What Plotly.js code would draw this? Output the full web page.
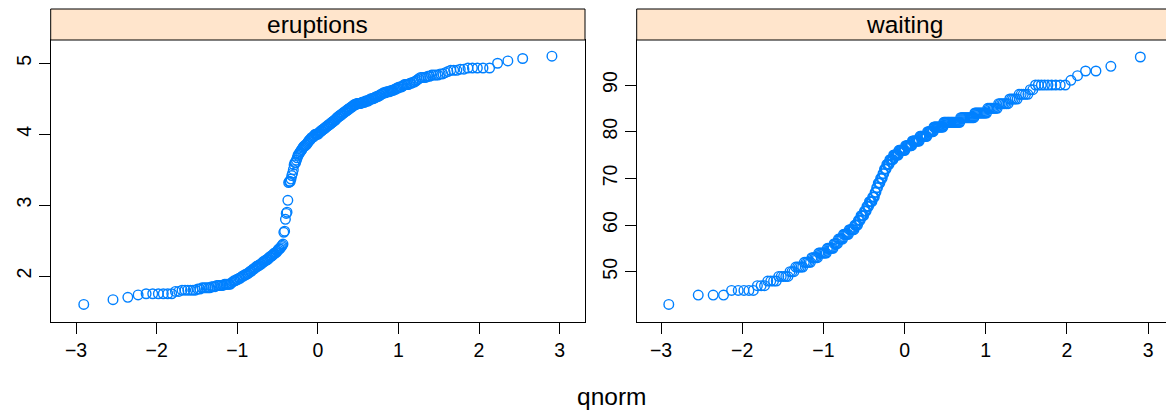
<!DOCTYPE html>
<html>
<head>
<meta charset="utf-8">
<script src="https://cdn.plot.ly/plotly-3.0.1.min.js"></script>
<style>
html, body { margin:0; padding:0; overflow:hidden; background:#fff; }
#chart { width:1175px; height:411px; }
</style>
</head>
<body>
<div id="chart"></div>
<script>
// Sorted sample values (Old Faithful eruptions, minutes)
const eruptions = [
1.600,1.667,1.700,1.733,1.750,1.750,1.750,1.750,1.750,1.750,
1.783,1.783,1.800,1.800,1.800,1.800,1.800,1.800,1.817,1.817,
1.833,1.833,1.833,1.833,1.833,1.850,1.850,1.850,1.867,1.867,
1.867,1.867,1.867,1.883,1.883,1.883,1.883,1.883,1.900,1.917,
1.933,1.933,1.950,1.950,1.967,1.967,1.983,2.000,2.000,2.017,
2.017,2.033,2.033,2.050,2.067,2.067,2.083,2.100,2.100,2.117,
2.133,2.133,2.150,2.150,2.167,2.167,2.183,2.200,2.200,2.217,
2.217,2.233,2.233,2.250,2.267,2.267,2.283,2.283,2.300,2.317,
2.317,2.333,2.333,2.350,2.367,2.383,2.383,2.400,2.417,2.433,
2.450,2.617,2.633,2.800,2.883,2.900,3.067,3.317,3.333,3.333,
3.367,3.417,3.450,3.500,3.567,3.600,3.600,3.633,3.667,3.700,
3.717,3.733,3.750,3.767,3.783,3.800,3.817,3.833,3.833,3.850,
3.850,3.867,3.883,3.900,3.917,3.917,3.933,3.950,3.950,3.967,
3.967,3.983,4.000,4.000,4.000,4.000,4.000,4.017,4.033,4.033,
4.050,4.050,4.067,4.067,4.083,4.083,4.100,4.100,4.117,4.117,
4.133,4.133,4.150,4.150,4.167,4.167,4.183,4.183,4.200,4.200,
4.217,4.233,4.233,4.250,4.250,4.267,4.267,4.283,4.283,4.300,
4.300,4.317,4.317,4.333,4.333,4.350,4.350,4.367,4.367,4.383,
4.383,4.400,4.400,4.417,4.417,4.417,4.433,4.433,4.433,4.433,
4.433,4.433,4.450,4.450,4.450,4.450,4.467,4.467,4.467,4.467,
4.483,4.483,4.500,4.500,4.500,4.500,4.517,4.517,4.533,4.533,
4.533,4.550,4.550,4.567,4.567,4.583,4.583,4.583,4.600,4.600,
4.600,4.600,4.617,4.617,4.617,4.633,4.633,4.650,4.650,4.667,
4.667,4.667,4.683,4.700,4.700,4.700,4.700,4.717,4.717,4.733,
4.733,4.750,4.767,4.783,4.800,4.800,4.800,4.800,4.817,4.817,
4.833,4.833,4.833,4.833,4.850,4.850,4.867,4.883,4.900,4.900,
4.900,4.917,4.917,4.933,4.933,4.933,4.933,4.933,5.000,5.033,5.067,5.100
];
// Sorted waiting times (minutes)
const waiting = [
43,45,45,45,46,46,46,46,46,47,47,47,
48,48,48,48,49,49,49,49,
49,50,50,50,51,51,51,51,51,52,
52,52,52,52,53,53,53,53,53,54,
54,54,54,54,54,54,55,55,55,55,
55,55,56,56,56,56,57,57,57,57,
57,58,58,58,58,58,58,59,59,59,
59,59,59,60,60,60,60,61,61,61,
62,62,62,62,63,63,63,64,64,64,
65,65,65,65,66,66,66,67,67,68,
68,69,69,69,70,70,70,71,71,72,
72,72,73,73,73,73,74,74,74,74,
74,75,75,75,75,75,75,75,76,76,
76,76,76,76,76,76,76,77,77,77,
77,77,77,77,77,77,78,78,78,78,
78,78,78,78,78,78,79,79,79,79,
79,79,79,79,79,79,80,80,80,80,
80,80,80,80,81,81,81,81,81,81,
81,81,81,81,81,81,82,82,82,82,
82,82,82,82,82,82,82,82,82,82,
82,82,82,82,82,83,83,83,83,83,
83,83,83,83,83,83,83,83,83,84,
84,84,84,84,84,84,84,84,84,84,
85,85,85,85,85,85,85,85,86,86,
86,86,86,86,86,87,87,87,87,87,
88,88,88,88,88,89,89,90,90,90,
90,90,90,90,90,90,91,92,93,93,94,96
];
const panelTitles = ["eruptions", "waiting"];
const xTicks = [-3,-2,-1,0,1,2,3];
const yTicksLeft = [2,3,4,5];
const yTicksRight = [50,60,70,80,90];

// Theoretical normal quantiles (qqmath: qnorm(ppoints(n)))
function qnorm(p){
  const a=[-3.969683028665376e+01,2.209460984245205e+02,-2.759285104469687e+02,1.383577518672690e+02,-3.066479806614716e+01,2.506628277459239e+00];
  const b=[-5.447609879822406e+01,1.615858368580409e+02,-1.556989798598866e+02,6.680131188771972e+01,-1.328068155288572e+01];
  const c=[-7.784894002430293e-03,-3.223964580411365e-01,-2.400758277161838e+00,-2.549732539343734e+00,4.374664141464968e+00,2.938163982698783e+00];
  const d=[7.784695709041462e-03,3.224671290700398e-01,2.445134137142996e+00,3.754408661907416e+00];
  const pl=0.02425, ph=1-pl; let q,r;
  if(p<pl){q=Math.sqrt(-2*Math.log(p));return (((((c[0]*q+c[1])*q+c[2])*q+c[3])*q+c[4])*q+c[5])/((((d[0]*q+d[1])*q+d[2])*q+d[3])*q+1);}
  if(p<=ph){q=p-0.5;r=q*q;return (((((a[0]*r+a[1])*r+a[2])*r+a[3])*r+a[4])*r+a[5])*q/(((((b[0]*r+b[1])*r+b[2])*r+b[3])*r+b[4])*r+1);}
  q=Math.sqrt(-2*Math.log(1-p));return -(((((c[0]*q+c[1])*q+c[2])*q+c[3])*q+c[4])*q+c[5])/((((d[0]*q+d[1])*q+d[2])*q+d[3])*q+1);
}
function theo(n){ const o=[]; for(let i=1;i<=n;i++){ o.push(qnorm((i-0.5)/n)); } return o; }

const W=1175, H=411;
const L1=50.7, R1=585, L2=636.7, R2=1172.4, T=40, B=321.7, ST=9;
const fam="Liberation Sans, Arial, Helvetica, sans-serif";
const marker={symbol:"circle-open", size:9.6, color:"#0080ff", line:{width:1.4, color:"#0080ff"}};

const traces=[
  {x:theo(eruptions.length), y:eruptions, type:"scatter", mode:"markers", marker:marker, xaxis:"x", yaxis:"y", hoverinfo:"x+y"},
  {x:theo(waiting.length), y:waiting, type:"scatter", mode:"markers", marker:marker, xaxis:"x2", yaxis:"y2", hoverinfo:"x+y"}
];

const axBase={showgrid:false, zeroline:false, showline:true, linecolor:"#000", linewidth:1, mirror:true,
  ticks:"outside", ticklen:11, tickwidth:1, tickcolor:"#000", tickfont:{family:fam, size:19.5, color:"#000"}};

const yd=[(H-B)/H,(H-T)/H];
const layout={
  width:W, height:H, margin:{l:0,r:0,t:0,b:0}, paper_bgcolor:"#fff", plot_bgcolor:"#fff", showlegend:false,
  font:{family:fam, color:"#000"},
  xaxis:Object.assign({}, axBase, {domain:[L1/W,R1/W], range:[-3.315,3.315], tickvals:xTicks, ticktext:xTicks.map(v=>v<0?"\u2212"+(-v):String(v)), anchor:"y"}),
  yaxis:Object.assign({}, axBase, {domain:yd, range:[1.356,5.328], tickvals:yTicksLeft, tickangle:-90, anchor:"x"}),
  xaxis2:Object.assign({}, axBase, {domain:[L2/W,R2/W], range:[-3.30,3.30], tickvals:xTicks, ticktext:xTicks.map(v=>v<0?"\u2212"+(-v):String(v)), anchor:"y2"}),
  yaxis2:Object.assign({}, axBase, {domain:yd, range:[39.29,99.64], tickvals:yTicksRight, tickangle:-90, anchor:"x2"}),
  shapes:[
    {type:"rect", xref:"paper", yref:"paper", x0:L1/W, x1:R1/W, y0:(H-T)/H, y1:(H-ST)/H, fillcolor:"#ffe5cc", line:{color:"#000", width:1}, layer:"above"},
    {type:"rect", xref:"paper", yref:"paper", x0:L2/W, x1:R2/W, y0:(H-T)/H, y1:(H-ST)/H, fillcolor:"#ffe5cc", line:{color:"#000", width:1}, layer:"above"}
  ],
  annotations:[
    {text:panelTitles[0], xref:"paper", yref:"paper", x:(L1+R1)/2/W, y:(H-24.5)/H, xanchor:"center", yanchor:"middle", showarrow:false, font:{family:fam, size:24.5, color:"#000"}},
    {text:panelTitles[1], xref:"paper", yref:"paper", x:(L2+R2)/2/W, y:(H-24.5)/H, xanchor:"center", yanchor:"middle", showarrow:false, font:{family:fam, size:24.5, color:"#000"}},
    {text:"qnorm", xref:"paper", yref:"paper", x:611/W, y:(H-396)/H, xanchor:"center", yanchor:"middle", showarrow:false, font:{family:fam, size:24.5, color:"#000"}}
  ]
};
Plotly.newPlot("chart", traces, layout, {staticPlot:true, displayModeBar:false});
</script>
</body>
</html>
